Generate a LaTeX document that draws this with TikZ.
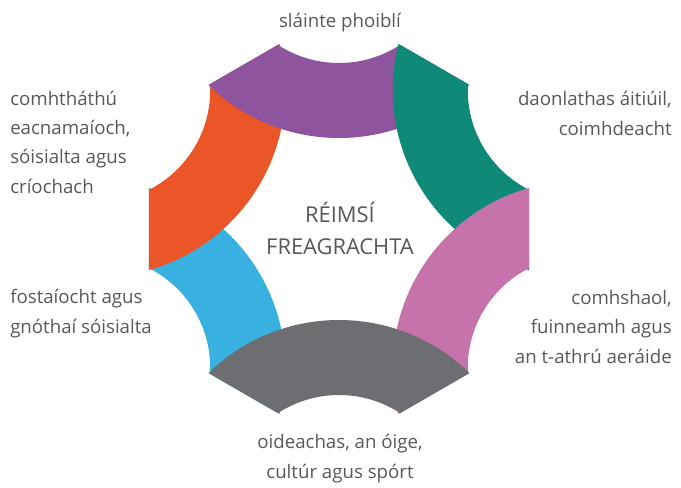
\documentclass[tikz,border=0pt]{standalone}
\usepackage{fontspec}
\setmainfont{Open Sans}
\usepackage{xcolor}
\usetikzlibrary{positioning}

\definecolor{bandpurple}{RGB}{142,84,158}
\definecolor{bandteal}{RGB}{16,138,120}
\definecolor{bandpink}{RGB}{198,115,172}
\definecolor{bandgray}{RGB}{109,110,114}
\definecolor{bandblue}{RGB}{56,176,224}
\definecolor{bandorange}{RGB}{235,86,40}
\definecolor{textgray}{RGB}{88,88,90}

\tikzset{
    area text/.style={text=textgray, inner sep=0pt, font=\fontsize{14}{21.8}\selectfont},
    hub text/.style={text=textgray, inner sep=0pt, align=center, font=\fontsize{16.4}{24}\selectfont}
}

\begin{document}
\begin{tikzpicture}[x=0.75pt, y=0.75pt]
    \useasboundingbox (-339,-258) rectangle (342,229);

    % Hexagon that trims the rings
    \begin{scope}
        \clip (30:219.4) -- (90:219.4) -- (150:219.4) -- (210:219.4) -- (270:219.4) -- (330:219.4) -- cycle;
        % Rings, lowest first
        \foreach \ang/\col in {210/bandblue, 150/bandorange, 90/bandpurple, 30/bandteal, -30/bandpink, -90/bandgray} {
            \fill[\col, even odd rule] (\ang:278) circle (187) (\ang:278) circle (112);
        }
    \end{scope}

    % Centre (base = last line)
    \node[hub text, anchor=base] (hub) at (1,-25) {RÉIMSÍ\\FREAGRACHTA};

    % Areas
    \node[area text, anchor=base] (health) at (1,202) {sláinte phoiblí};
    \node[area text, anchor=base east, align=right] (local) at (333,94) {daonlathas áitiúil,\\coimhdeacht};
    \node[area text, anchor=base east, align=right] (climate) at (333,-134) {comhshaol,\\fuinneamh agus\\an t-athrú aeráide};
    \node[area text, anchor=base, align=center] (youth) at (1,-249) {oideachas, an óige,\\cultúr agus spórt};
    \node[area text, anchor=base west, align=left] (jobs) at (-329,-104) {fostaíocht agus\\gnóthaí sóisialta};
    \node[area text, anchor=base west, align=left] (cohesion) at (-329,36) {comhtháthú\\eacnamaíoch,\\sóisialta agus\\críochach};
\end{tikzpicture}
\end{document}
